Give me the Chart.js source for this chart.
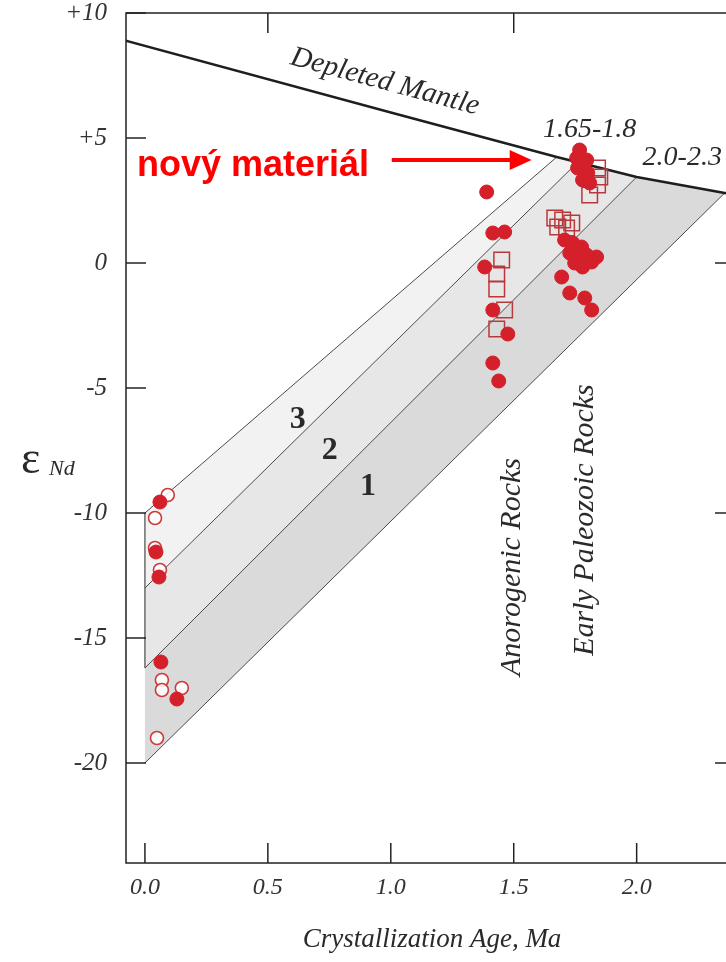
<!DOCTYPE html>
<html>
<head>
<meta charset="utf-8">
<script src="https://cdn.jsdelivr.net/npm/chart.js@4.4.1/dist/chart.umd.min.js"></script>
<style>
html, body { margin: 0; padding: 0; background: #fff; overflow: hidden; }
#wrap { width: 726px; height: 962px; overflow: hidden; }
canvas { display: block; }
</style>
</head>
<body>
<div id="wrap"><canvas id="chart" width="760" height="962"></canvas></div>
<script>
// depleted mantle curve (age Ga, eps Nd)
const dmAge = [-0.1, 1.0, 1.675, 2.0, 2.358, 2.45];
const dmEps = [8.95, 6.02, 4.24, 3.44, 2.8, 2.65];

// crustal evolution lines, start at age 0 and end on the mantle curve (top to bottom)
const lineStartEps = [-10, -13, -16.2, -20];
const lineEndAge = [1.675, 1.76, 2.0, 2.358];
const lineEndEps = [4.24, 4.03, 3.44, 2.8];

// samples
const filledAge = [0.061, 0.045, 0.057, 0.065, 0.130,
    1.39, 1.415, 1.463, 1.382, 1.415, 1.476, 1.415, 1.439,
    1.768, 1.756, 1.797, 1.76, 1.801, 1.78, 1.809,
    1.707, 1.74, 1.776, 1.728, 1.76, 1.797, 1.837, 1.748, 1.78, 1.817,
    1.695, 1.728, 1.789, 1.817];
const filledEps = [-9.56, -11.56, -12.56, -15.96, -17.44,
    2.84, 1.2, 1.24, -0.16, -1.88, -2.84, -4.0, -4.72,
    4.52, 4.2, 4.12, 3.8, 3.6, 3.32, 3.2,
    0.92, 0.8, 0.64, 0.4, 0.24, 0.32, 0.24, 0.0, -0.16, 0.04,
    -0.56, -1.2, -1.4, -1.88];

const openAge = [0.093, 0.041, 0.041, 0.061, 0.069, 0.069, 0.150, 0.049];
const openEps = [-9.28, -10.2, -11.4, -12.28, -16.68, -17.08, -17.0, -19.0];

const squareAge = [1.451, 1.431, 1.431, 1.463, 1.431,
    1.841, 1.85, 1.841, 1.809,
    1.667, 1.699, 1.736, 1.679, 1.715];
const squareEps = [0.12, -0.44, -1.04, -1.88, -2.64,
    3.8, 3.44, 3.12, 2.72,
    1.8, 1.72, 1.6, 1.44, 1.4];

const xTicks = [0, 0.5, 1.0, 1.5, 2.0];
const topTickAges = [0.5, 1.5];
const rightTickEps = [0, -10, -20];

const bandColors = ['#f2f2f2', '#e7e7e7', '#dadada'];
const red = '#d3202a';

const pts = (xs, ys) => xs.map((v, i) => ({ x: v, y: ys[i] }));

const dmData = pts(dmAge, dmEps);
const lineData = lineStartEps.map((s, i) => [{ x: 0, y: s }, { x: lineEndAge[i], y: lineEndEps[i] }]);

// band polygons between neighbouring lines, closed along the mantle curve
const bandData = [0, 1, 2].map(i => {
    const a = lineData[i], b = lineData[i + 1];
    const mid = dmData.filter(p => p.x > a[1].x && p.x < b[1].x);
    return [a[0], a[1], ...mid, b[1], b[0], a[0]];
});

const datasets = [];
datasets.push({ data: pts(filledAge, filledEps), showLine: false, pointStyle: 'circle',
    pointRadius: 7, pointBackgroundColor: red, pointBorderColor: red, pointBorderWidth: 1, order: 1 });
datasets.push({ data: pts(openAge, openEps), showLine: false, pointStyle: 'circle',
    pointRadius: 6.5, pointBackgroundColor: 'rgba(255,255,255,0.85)', pointBorderColor: '#cc3a3a', pointBorderWidth: 1.6, order: 2 });
datasets.push({ data: pts(squareAge, squareEps), showLine: false, pointStyle: 'rect',
    pointRadius: 11, pointBackgroundColor: 'rgba(0,0,0,0)', pointBorderColor: '#b8393b', pointBorderWidth: 1.5, order: 3 });
datasets.push({ data: dmData, borderColor: '#1e1e1e', borderWidth: 2.4, pointRadius: 0, fill: false, order: 4 });
lineData.forEach(d => datasets.push({ data: d, borderColor: '#4a4a4a', borderWidth: 1, pointRadius: 0, fill: false, order: 5 }));
datasets.push({ data: [{ x: 0, y: lineStartEps[0] }, { x: 0, y: lineStartEps[2] }], borderColor: '#4a4a4a',
    borderWidth: 1.2, pointRadius: 0, fill: false, order: 5 });
bandData.forEach((d, i) => datasets.push({ data: d, borderWidth: 0, borderColor: 'rgba(0,0,0,0)', pointRadius: 0,
    backgroundColor: bandColors[i], fill: 'shape', order: 10 + i }));

const serif = "'Liberation Serif', 'DejaVu Serif', serif";

const framePlugin = {
    id: 'frame',
    afterDatasetsDraw(chart) {
        const { ctx, chartArea: a, scales: { x, y } } = chart;
        ctx.save();
        ctx.strokeStyle = '#222';
        ctx.lineWidth = 1.5;
        ctx.strokeRect(a.left, a.top, a.right - a.left, a.bottom - a.top);
        const seg = (x1, y1, x2, y2) => { ctx.beginPath(); ctx.moveTo(x1, y1); ctx.lineTo(x2, y2); ctx.stroke(); };
        xTicks.forEach(v => { const p = x.getPixelForValue(v); seg(p, a.bottom, p, a.bottom - 20); });
        topTickAges.forEach(v => { const p = x.getPixelForValue(v); seg(p, a.top, p, a.top + 20); });
        y.ticks.forEach(t => { const p = y.getPixelForValue(t.value); seg(a.left, p, a.left + 20, p); });
        rightTickEps.forEach(v => { const p = y.getPixelForValue(v); seg(a.right, p, a.right - 20, p); });
        ctx.restore();
    }
};

const labelPlugin = {
    id: 'labels',
    afterDatasetsDraw(chart) {
        const { ctx, scales: { x, y } } = chart;
        const X = v => x.getPixelForValue(v), Y = v => y.getPixelForValue(v);
        ctx.save();
        ctx.fillStyle = '#2a2a2a';
        ctx.textAlign = 'center';
        ctx.textBaseline = 'middle';

        // Depleted Mantle, along the curve
        const ang = Math.atan2(Y(dmEps[2]) - Y(dmEps[0]), X(dmAge[2]) - X(dmAge[0]));
        ctx.save();
        ctx.translate(X(0.976), Y(7.24));
        ctx.rotate(ang);
        ctx.font = 'italic 29px ' + serif;
        ctx.fillText('Depleted Mantle', 0, 0);
        ctx.restore();

        ctx.font = 'italic 28px ' + serif;
        ctx.fillText('1.65-1.8', X(1.809), Y(5.32));
        ctx.textAlign = 'left';
        ctx.fillText('2.0-2.3', X(2.024), Y(4.2));
        ctx.textAlign = 'center';

        ctx.font = 'bold 32px ' + serif;
        ctx.fillText('3', X(0.622), Y(-6.28));
        ctx.fillText('2', X(0.752), Y(-7.52));
        ctx.fillText('1', X(0.907), Y(-8.96));

        ctx.font = 'italic 30px ' + serif;
        [['Anorogenic Rocks', 1.492, -12.16], ['Early Paleozoic Rocks', 1.789, -10.28]].forEach(([t, ax, ey]) => {
            ctx.save();
            ctx.translate(X(ax), Y(ey));
            ctx.rotate(-Math.PI / 2);
            ctx.fillText(t, 0, 0);
            ctx.restore();
        });

        // axis titles
        ctx.font = 'italic 27px ' + serif;
        ctx.fillText('Crystallization Age, Ma', 432, 940);
        ctx.textAlign = 'left';
        ctx.font = '46px ' + serif;
        ctx.fillText('\u03b5', 21, Y(-7.9));
        ctx.font = 'italic 22px ' + serif;
        ctx.fillText('Nd', 49, Y(-8.25));

        // new material arrow
        ctx.fillStyle = '#ff0000';
        ctx.strokeStyle = '#ff0000';
        ctx.font = "bold 36px 'Liberation Sans', Arial, sans-serif";
        ctx.fillText('nov\u00fd materi\u00e1l', X(-0.0325), Y(3.88));
        const ax1 = X(1.004), ax2 = X(1.573), ay = Y(4.12);
        ctx.lineWidth = 4;
        ctx.beginPath(); ctx.moveTo(ax1, ay); ctx.lineTo(ax2 - 18, ay); ctx.stroke();
        ctx.beginPath(); ctx.moveTo(ax2, ay); ctx.lineTo(ax2 - 22, ay - 10); ctx.lineTo(ax2 - 22, ay + 10); ctx.closePath(); ctx.fill();
        ctx.restore();
    }
};

new Chart(document.getElementById('chart'), {
    type: 'line',
    data: { datasets: datasets },
    options: {
        responsive: false,
        animation: false,
        layout: { padding: { left: 0, right: 25, top: 13, bottom: 59 } },
        plugins: { legend: { display: false }, tooltip: { enabled: false } },
        scales: {
            x: {
                type: 'linear', min: -0.077, max: 2.40,
                grid: { display: false, drawTicks: false }, border: { display: false },
                afterFit: s => { s.height = 40; s.paddingLeft = 0; s.paddingRight = 0; },
                ticks: { stepSize: 0.5, includeBounds: false, padding: 10, color: '#333',
                    font: { family: serif, style: 'italic', size: 24 },
                    callback: v => v.toFixed(1) }
            },
            y: {
                type: 'linear', min: -24, max: 10,
                grid: { display: false, drawTicks: false }, border: { display: false },
                afterFit: s => { s.width = 126; s.paddingTop = 0; s.paddingBottom = 0; },
                ticks: { stepSize: 5, includeBounds: false, padding: 19, color: '#333',
                    font: { family: serif, style: 'italic', size: 25 },
                    callback: v => (v > 0 ? '+' + v : '' + v) }
            }
        }
    },
    plugins: [framePlugin, labelPlugin]
});
</script>
</body>
</html>
